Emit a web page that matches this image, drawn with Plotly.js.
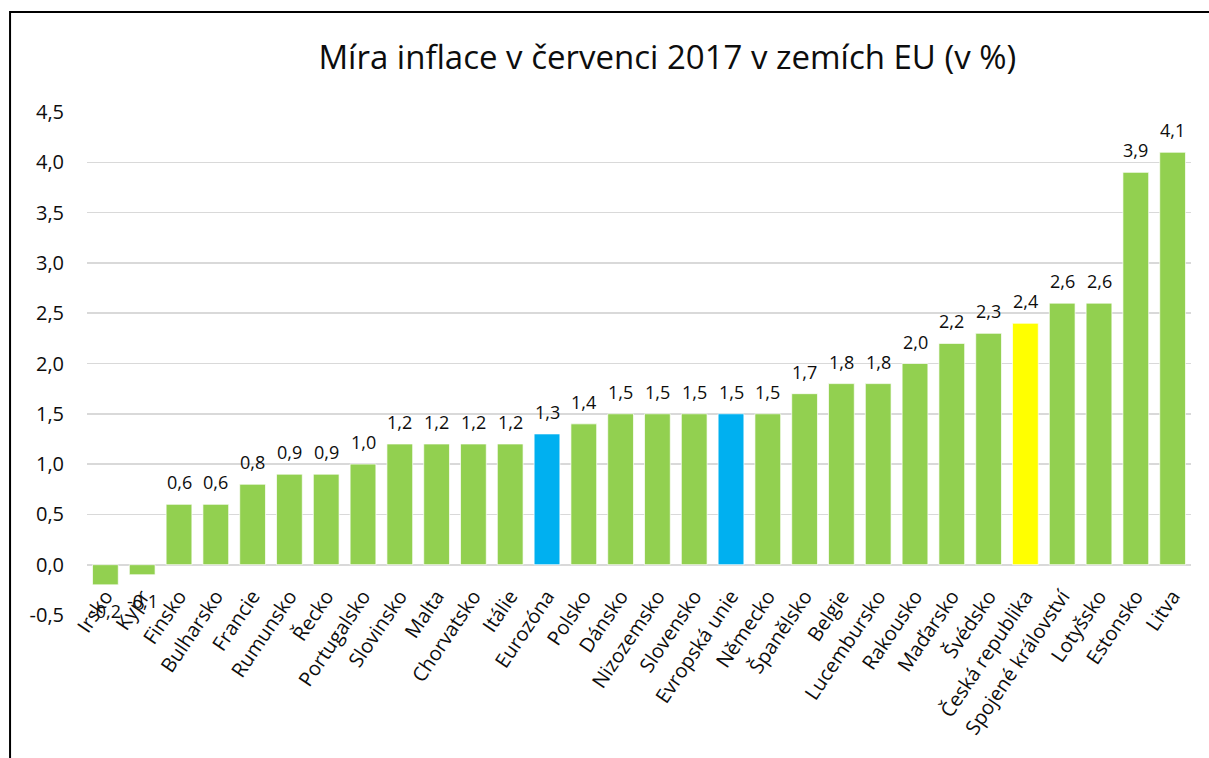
<!DOCTYPE html>
<html>
<head>
<meta charset="utf-8">
<script src="https://cdn.plot.ly/plotly-3.0.1.min.js"></script>
<style>html,body{margin:0;padding:0;background:#fff;}#chart{width:1209px;height:758px;}</style>
</head>
<body>
<div id="chart"></div>
<script>
const categories = ["Irsko","Kypr","Finsko","Bulharsko","Francie","Rumunsko","Řecko","Portugalsko","Slovinsko","Malta","Chorvatsko","Itálie","Eurozóna","Polsko","Dánsko","Nizozemsko","Slovensko","Evropská unie","Německo","Španělsko","Belgie","Lucembursko","Rakousko","Maďarsko","Švédsko","Česká republika","Spojené království","Lotyšsko","Estonsko","Litva"];
const values = [-0.2,-0.1,0.6,0.6,0.8,0.9,0.9,1.0,1.2,1.2,1.2,1.2,1.3,1.4,1.5,1.5,1.5,1.5,1.5,1.7,1.8,1.8,2.0,2.2,2.3,2.4,2.6,2.6,3.9,4.1];
const highlightBlue = ["Eurozóna","Evropská unie"];
const highlightYellow = ["Česká republika"];
const tickValues = [-0.5,0,0.5,1,1.5,2,2.5,3,3.5,4,4.5];

const fmt = v => v.toFixed(1).replace(".", ",");
const colors = categories.map(c => highlightBlue.includes(c) ? "#00B0F0" : (highlightYellow.includes(c) ? "#FFFF00" : "#92D050"));
const FONT = "'Open Sans', Lato, sans-serif";
const TXT = "#0d0d0d";

const trace = {
  type: "bar",
  x: categories,
  y: values,
  marker: {color: colors, line: {color: "rgba(255,255,255,0.7)", width: 1}},
  hoverinfo: "x+y"
};

const labelAnnotations = categories.map((c, i) => ({
  x: c, y: values[i], xref: "x", yref: "y",
  text: fmt(values[i]),
  showarrow: false,
  xanchor: "center",
  yanchor: values[i] >= 0 ? "bottom" : "top",
  yshift: values[i] >= 0 ? 8 : -12,
  font: {family: FONT, size: 18, color: TXT}
}));

const layout = {
  width: 1209, height: 758,
  margin: {l: 87, r: 18, t: 112, b: 143},
  paper_bgcolor: "#fff", plot_bgcolor: "#fff",
  bargap: 0.3,
  showlegend: false,
  title: {
    text: "Míra inflace v červenci 2017 v zemích EU (v %)",
    font: {family: FONT, size: 33, color: TXT},
    x: 0.552, xref: "container", xanchor: "center",
    y: 0.924, yref: "container", yanchor: "middle"
  },
  xaxis: {
    type: "category",
    anchor: "free", position: 0.1,
    tickangle: -56,
    tickfont: {family: FONT, size: 20, color: TXT},
    ticklabelstandoff: 15,
    showline: false, ticks: "", showgrid: false,
    automargin: false
  },
  yaxis: {
    range: [-0.5, 4.5],
    tickvals: tickValues,
    ticktext: tickValues.map(fmt),
    tickfont: {family: FONT, size: 20, color: TXT},
    gridcolor: "#d9d9d9", gridwidth: 1.5,
    zeroline: true, zerolinecolor: "#d9d9d9", zerolinewidth: 2,
    ticks: "", ticklabelstandoff: 22,
    showline: false, automargin: false
  },
  annotations: labelAnnotations,
  shapes: [{
    type: "rect", xref: "paper", yref: "paper",
    x0: -0.0697, x1: 1.2, y0: -0.6, y1: 1.1988,
    line: {color: "#000", width: 2}, fillcolor: "rgba(0,0,0,0)", layer: "above"
  }]
};

Plotly.newPlot("chart", [trace], layout, {displayModeBar: false, staticPlot: true});
</script>
</body>
</html>
